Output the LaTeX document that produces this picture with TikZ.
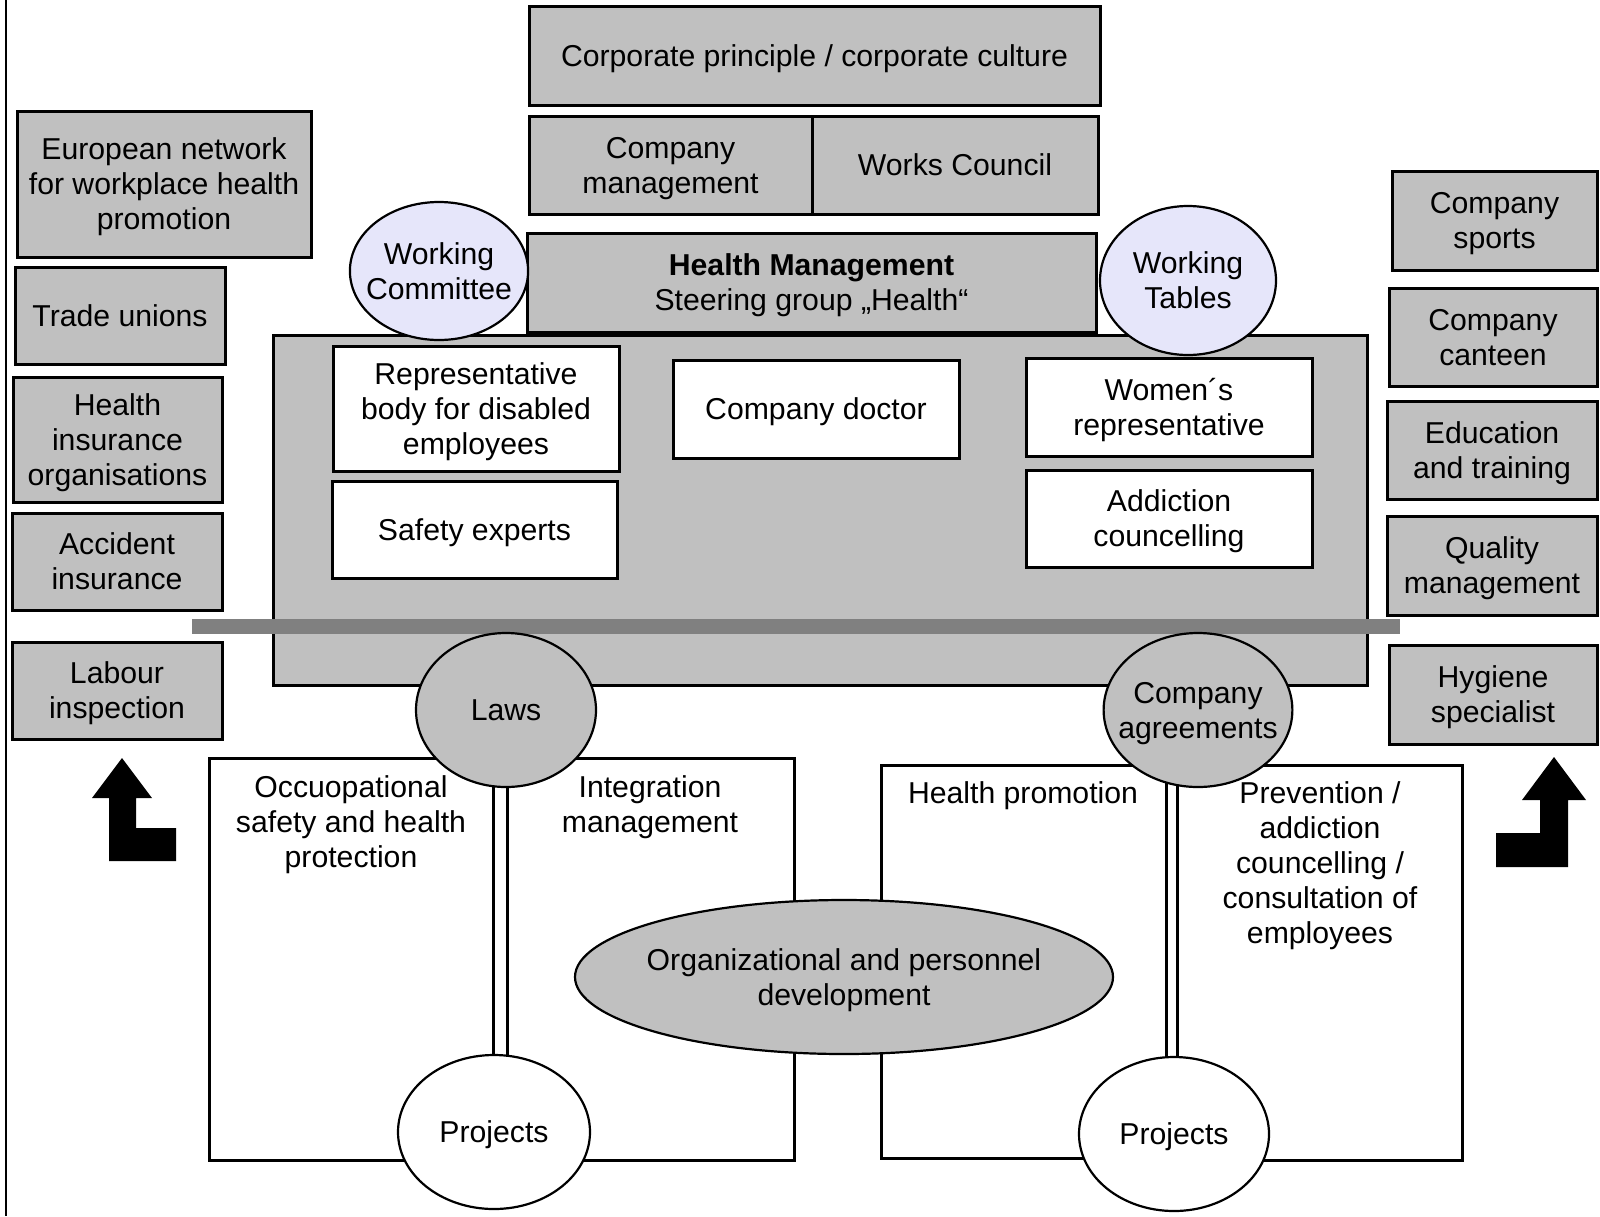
\documentclass[tikz,border=0pt]{standalone}
\usepackage{fontspec}
\setmainfont{Liberation Sans}
\usetikzlibrary{shapes.geometric}
\definecolor{boxgray}{RGB}{192,192,192}
\definecolor{bargray}{RGB}{128,128,128}
\definecolor{wtlav}{RGB}{230,230,250}
\tikzset{
  sz/.style 2 args={minimum width=#1pt,minimum height=#2pt},
  gbox/.style={draw,line width=3pt,fill=boxgray,inner sep=0pt,text depth=0pt},
  wbox/.style={draw,line width=3pt,fill=white,inner sep=0pt,text depth=0pt},
  oval/.style={ellipse,draw,line width=2.2pt,inner sep=0pt,text depth=0pt}
}
\begin{document}
\begin{tikzpicture}[x=1pt,y=-1pt,
    every node/.style={font=\fontsize{30.2}{35}\selectfont,align=center}]
  \useasboundingbox (0,0) rectangle (1600,1216);
  \draw[line width=2pt] (6,0) -- (6,1216);
  % central block
  \node[gbox,sz={1094}{350}] (core) at (820,510) {};
  \node[gbox,sz={571}{99}] (culture) at (814.5,55.5) {Corporate principle / corporate culture};
  \node[gbox,sz={283}{98}] (mgmt) at (670.5,165) {Company\\management};
  \node[gbox,sz={286}{98}] (council) at (955,165) {Works Council};
  \node[gbox,sz={569}{99}] (hm) at (811.5,282.5) {\textbf{Health Management}\\Steering group „Health“};
  \node[wbox,sz={286}{125}] (disabled) at (476,408.5) {Representative\\body for disabled\\employees};
  \node[wbox,sz={285}{97}] (safety) at (474.5,529.5) {Safety experts};
  \node[wbox,sz={286}{98}] (doctor) at (816,409) {Company doctor};
  \node[wbox,sz={286}{98}] (women) at (1169,407) {Women´s\\representative};
  \node[wbox,sz={286}{97}] (addict) at (1169,518.5) {Addiction\\councelling};
  % left column
  \node[gbox,sz={294}{146}] (enwhp) at (164,184) {European network\\for workplace health\\promotion};
  \node[gbox,sz={210}{97}] (unions) at (120,315.5) {Trade unions};
  \node[gbox,sz={209}{125}] (insur) at (117.5,439.5) {Health\\insurance\\organisations};
  \node[gbox,sz={210}{97}] (accid) at (117,561.5) {Accident\\insurance};
  \node[gbox,sz={210}{97}] (labour) at (117,690.5) {Labour\\inspection};
  % right column
  \node[gbox,sz={205}{99}] (sports) at (1494.5,220.5) {Company\\sports};
  \node[gbox,sz={208}{98}] (canteen) at (1493,337) {Company\\canteen};
  \node[gbox,sz={210}{98}] (edu) at (1492,450) {Education\\and training};
  \node[gbox,sz={210}{99}] (quality) at (1492,565.5) {Quality\\management};
  \node[gbox,sz={208}{99}] (hygiene) at (1493,694.5) {Hygiene\\specialist};
  % working groups
  \node[oval,fill=wtlav,sz={178}{138},inner xsep=-10pt] (wcomm) at (439,271) {Working\\Committee};
  \node[oval,fill=wtlav,sz={176}{149}] (wtables) at (1188,280.5) {Working\\Tables};
  % fields of action
  \node[wbox,sz={284}{402}] (osh) at (351,959) {};
  \node[wbox,sz={287}{402}] (integ) at (650.5,959) {};
  \node[wbox,sz={285}{393}] (promo) at (1023.5,961.5) {};
  \node[wbox,sz={285}{395}] (prev) at (1319.5,962.5) {};
  \node[anchor=north,inner sep=0pt] (oshtxt) at (351,775) {Occuopational\\safety and health\\protection};
  \node[anchor=north,inner sep=0pt] (integtxt) at (650,775) {Integration\\management};
  \node[anchor=north,inner sep=0pt] (promotxt) at (1023,781) {Health promotion};
  \node[anchor=north,inner sep=0pt] (prevtxt) at (1320,781) {Prevention /\\addiction\\councelling /\\consultation of\\employees};
  \fill[bargray] (192,619) rectangle (1400,634);
  \node[oval,fill=boxgray,sz={180}{154}] (laws) at (506,710) {Laws};
  \node[oval,fill=boxgray,sz={188}{154},inner xsep=-13pt] (agree) at (1198,710) {Company\\agreements};
  \node[oval,fill=boxgray,sz={538}{154},inner xsep=-8pt] (orgdev) at (844,977) {Organizational and personnel\\development};
  \node[oval,fill=white,sz={192}{154}] (proj1) at (494,1132) {Projects};
  \node[oval,fill=white,sz={190}{154}] (proj2) at (1174,1134) {Projects};
  % arrows
  \fill (122,758) -- (152,798) -- (136,798) -- (136,828) -- (176,828) -- (176,861)
    -- (109,861) -- (109,798) -- (92,798) -- cycle;
  \fill (1554,757) -- (1586,800) -- (1568,800) -- (1568,867) -- (1496,867) -- (1496,833)
    -- (1540,833) -- (1540,800) -- (1522,800) -- cycle;
\end{tikzpicture}
\end{document}
